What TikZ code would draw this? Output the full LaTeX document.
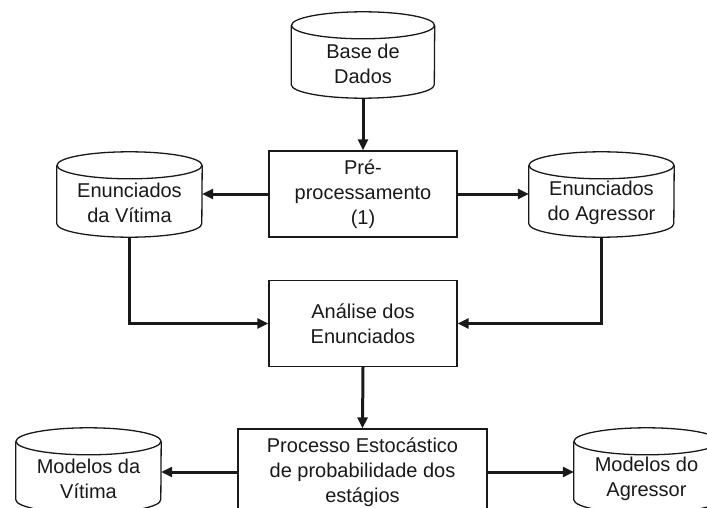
\documentclass[tikz,border=0pt]{standalone}
\usepackage{fontspec}
\setmainfont{Liberation Sans}
\usetikzlibrary{arrows.meta}
\newcommand\drawcyl[2]{%
  \draw[outline] ([yshift=-13.5pt]#1.north west) -- ([yshift=13.5pt]#1.south west)
    arc[start angle=180, end angle=360, x radius=#2pt, y radius=13.5pt]
    -- ([yshift=-13.5pt]#1.north east);
  \draw[outline] ([yshift=-13.5pt]#1.north) ellipse[x radius=#2pt, y radius=13.5pt];}
\tikzset{
  every node/.style={font=\fontsize{20}{25}\selectfont},
  outline/.style={line width=1.3pt, black!90},
  box/.style={draw, outline, minimum width=188pt, minimum height=86pt, inner sep=0pt, align=center},
  dbase/.style={minimum width=145pt, minimum height=85pt, inner sep=0pt},
  lbl/.style={align=center, text=black!90},
  conn/.style={line width=3pt, black!90, -{Triangle[length=11pt,width=10pt]}}
}
\begin{document}
\begin{tikzpicture}[x=1pt,y=-1pt]
\useasboundingbox (0,0) rectangle (707,508);
\clip (0,0) rectangle (707,508);
% cylinders (placeholders)
\node[dbase, minimum width=143pt, minimum height=86pt] (db) at (363,55) {};
\node[dbase] (ev) at (129.5,194.5) {};
\node[dbase] (ea) at (601.5,194.5) {};
\node[dbase] (mv) at (88.5,470.5) {};
\node[dbase] (ma) at (646.5,470.5) {};
\drawcyl{db}{71.5}
\drawcyl{ev}{72.5}
\drawcyl{ea}{72.5}
\drawcyl{mv}{72.5}
\drawcyl{ma}{72.5}
\node[lbl] (dbt) at ([yshift=-9pt]db.center) {Base de\\Dados};
\node[lbl] (evt) at ([yshift=-8.5pt]ev.center) {Enunciados\\da Vítima};
\node[lbl] (eat) at ([yshift=-8.5pt]ea.center) {Enunciados\\do Agressor};
\node[lbl] (mvt) at ([yshift=-8.5pt]mv.center) {Modelos da\\Vítima};
\node[lbl] (mat) at ([yshift=-8.5pt]ma.center) {Modelos do\\Agressor};
% boxes
\node[box, lbl] (pre) at (363,194) {Pré-\\processamento\\(1)};
\node[box, lbl] (an) at (363,323.5) {Análise dos\\Enunciados};
\node[box, lbl, minimum width=249pt] (pr) at (362.5,472) {Processo Estocástico\\de probabilidade dos\\estágios};
% connectors
\draw[conn] (db.south) -- (pre.north);
\draw[conn] (pre.west) -- (pre.west -| ev.east);
\draw[conn] (pre.east) -- (pre.east -| ea.west);
\draw[conn] (ev.south) |- (an.west);
\draw[conn] (ea.south) |- (an.east);
\draw[conn] (an.south) -- (pr.north);
\draw[conn] (pr.west) -- (pr.west -| mv.east);
\draw[conn] (pr.east) -- (pr.east -| ma.west);
\end{tikzpicture}
\end{document}
